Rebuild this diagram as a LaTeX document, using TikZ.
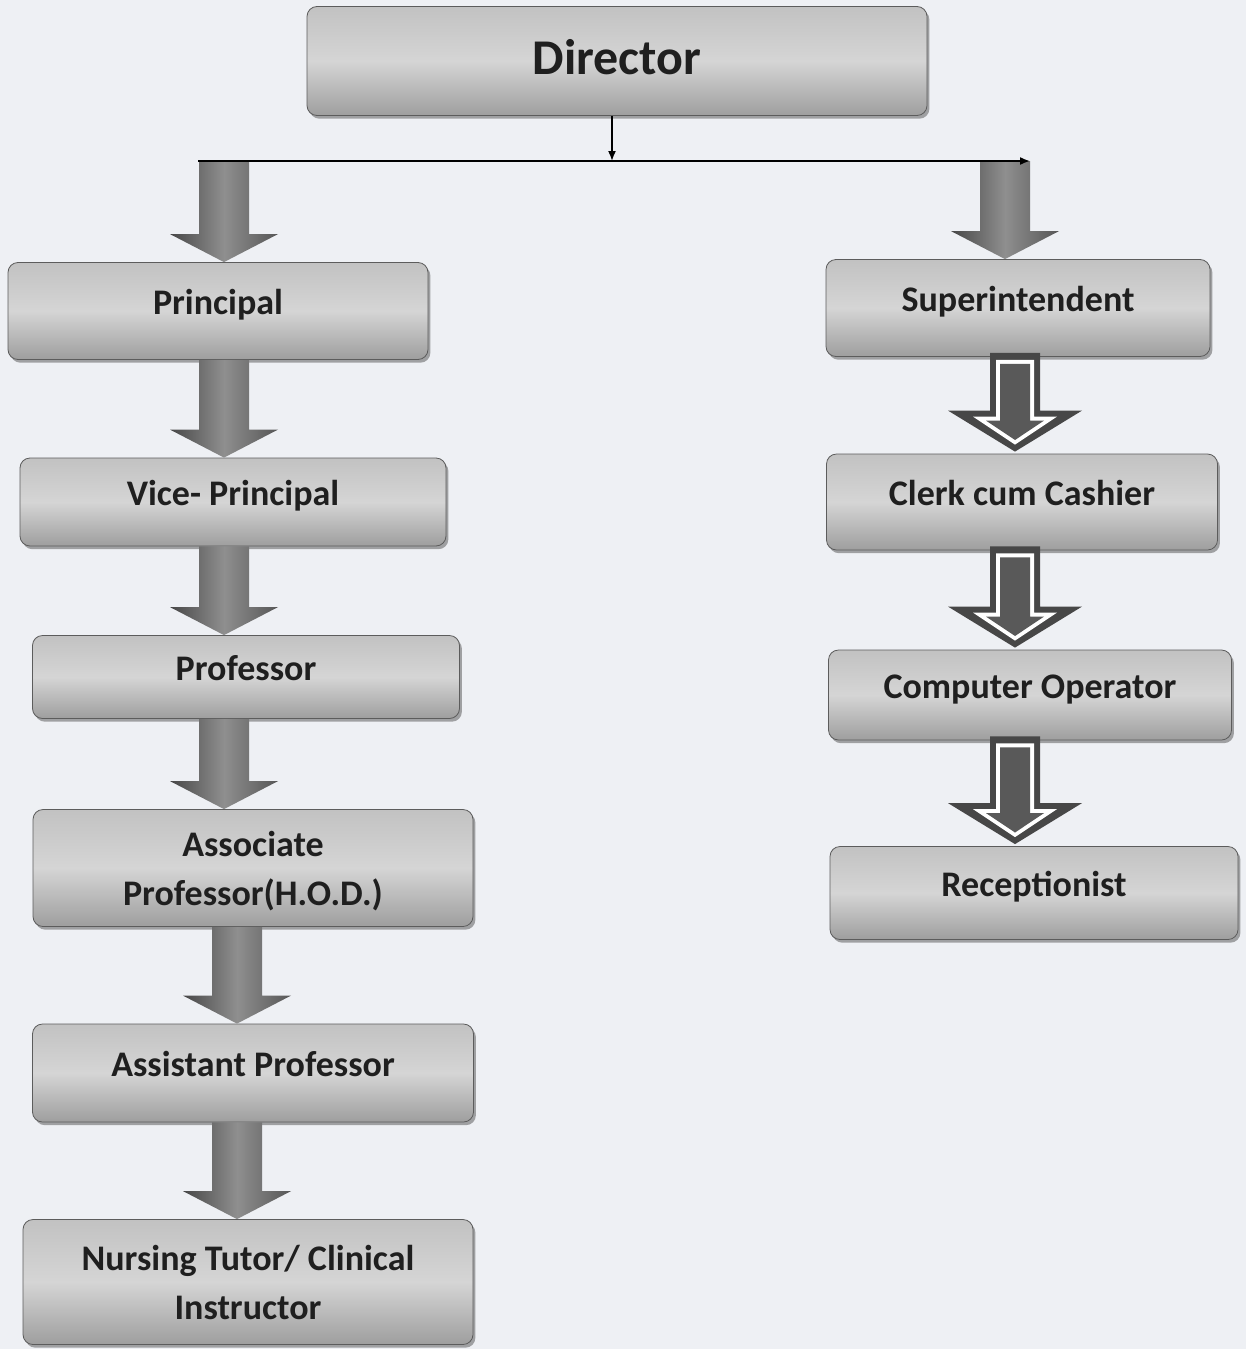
\documentclass[tikz,border=0pt]{standalone}
\usepackage{fontspec}
\setmainfont{Carlito}
\usepackage{tikz}
\usetikzlibrary{calc,shadows,arrows.meta}

\definecolor{pagebg}{HTML}{EEF0F4}
\definecolor{boxedge}{HTML}{5C5C5C}
\definecolor{arrowdark}{HTML}{474747}

\tikzset{
  post/.style={draw=boxedge, rounded corners=5pt, top color=gray!48, bottom color=gray!76, middle color=gray!33,
    drop shadow={shadow xshift=1.2pt, shadow yshift=-1.6pt, fill=black!68},
    font=\fontsize{18}{24.5}\selectfont\bfseries, text=black!88, align=center, inner sep=0pt},
  oneline/.style={text height=12pt, text depth=9pt},
  blockpath/.style n args={5}{to path={let \p1=(\tikztostart), \p2=(\tikztotarget) in
    (\x1-#1,\y1+#5) -- (\x1+#1,\y1+#5) -- (\x1+#1,\y2+#3) -- (\x1+#2,\y2+#3) -- (\x1,\y2+#4)
    -- (\x1-#2,\y2+#3) -- (\x1-#1,\y2+#3) -- cycle}},
  solidarrow/.style={blockpath={12.5pt}{27pt}{14pt}{0pt}{0pt},
    left color=black!72, right color=black!66, middle color=black!44}
}

\newcommand{\hollowdown}[2]{%
  \path[blockpath={12.5pt}{33.5pt}{21.5pt}{1pt}{2pt}, fill=arrowdark] (#1) to (#2);
  \path[blockpath={9.5pt}{21pt}{18.5pt}{4.5pt}{-1.5pt}, fill=white] (#1) to (#2);
  \path[blockpath={7.5pt}{14.5pt}{16.5pt}{6.8pt}{-3.5pt}, fill=arrowdark!90] (#1) to (#2);
}

\begin{document}
\begin{tikzpicture}[x=0.5pt,y=-0.5pt]
\useasboundingbox (0,0) rectangle (1246,1349);
\fill[pagebg] (0,0) rectangle (1246,1349);

% top
\node[post, minimum width=310pt, minimum height=54.5pt, font=\fontsize{25}{30}\selectfont\bfseries, text depth=4pt] (director) at (617,61) {Director};

\coordinate (split) at (612,161);
\coordinate (hleft) at (198,161);
\coordinate (hright) at (1030,161);
\coordinate (lcol) at (224,161);
\coordinate (lcol2) at (237,161);
\coordinate (rcol) at (1005,161);
\coordinate (hcol) at (1015,161);

% left column
\node[post, oneline, minimum width=210pt, minimum height=48.5pt] (principal) at (218,311) {Principal};
\node[post, oneline, minimum width=213pt, minimum height=44pt] (viceprincipal) at (233,502) {Vice- Principal};
\node[post, oneline, minimum width=213.5pt, minimum height=41.5pt] (professor) at (246,677) {Professor};
\node[post, minimum width=220pt, minimum height=58.5pt, text depth=0pt] (assocprof) at (253,868) {Associate\\Professor(H.O.D.)};
\node[post, oneline, minimum width=220.5pt, minimum height=49pt] (assistprof) at (253,1073) {Assistant Professor};
\node[post, minimum width=225pt, minimum height=62.5pt] (tutor) at (248,1282) {Nursing Tutor/ Clinical\\Instructor};

% right column
\node[post, oneline, minimum width=192pt, minimum height=48.5pt] (superint) at (1018,308) {Superintendent};
\node[post, oneline, minimum width=195.5pt, minimum height=48pt] (clerk) at (1022,502) {Clerk cum Cashier};
\node[post, oneline, minimum width=201.5pt, minimum height=45pt] (operator) at (1030,695) {Computer Operator};
\node[post, oneline, minimum width=204pt, minimum height=46.5pt] (receptionist) at (1034,893) {Receptionist};

% branch line
\path[solidarrow] (lcol) to (principal.north);
\path[solidarrow] (rcol) to (superint.north);
\draw[thick,-{Latex[length=5pt,width=4pt]}] (director.south -| split) -- (split);
\draw[thick,-{Latex[length=5pt,width=4pt]}] (hleft) -- (hright);

% left arrows
\path[solidarrow] (principal.south -| lcol) to (viceprincipal.north);
\path[solidarrow] (viceprincipal.south -| lcol) to (professor.north);
\path[solidarrow] (professor.south -| lcol) to (assocprof.north);
\path[solidarrow] (assocprof.south -| lcol2) to (assistprof.north);
\path[solidarrow] (assistprof.south -| lcol2) to (tutor.north);

% right arrows
\hollowdown{superint.south -| hcol}{clerk.north}
\hollowdown{clerk.south -| hcol}{operator.north}
\hollowdown{operator.south -| hcol}{receptionist.north}
\end{tikzpicture}
\end{document}
